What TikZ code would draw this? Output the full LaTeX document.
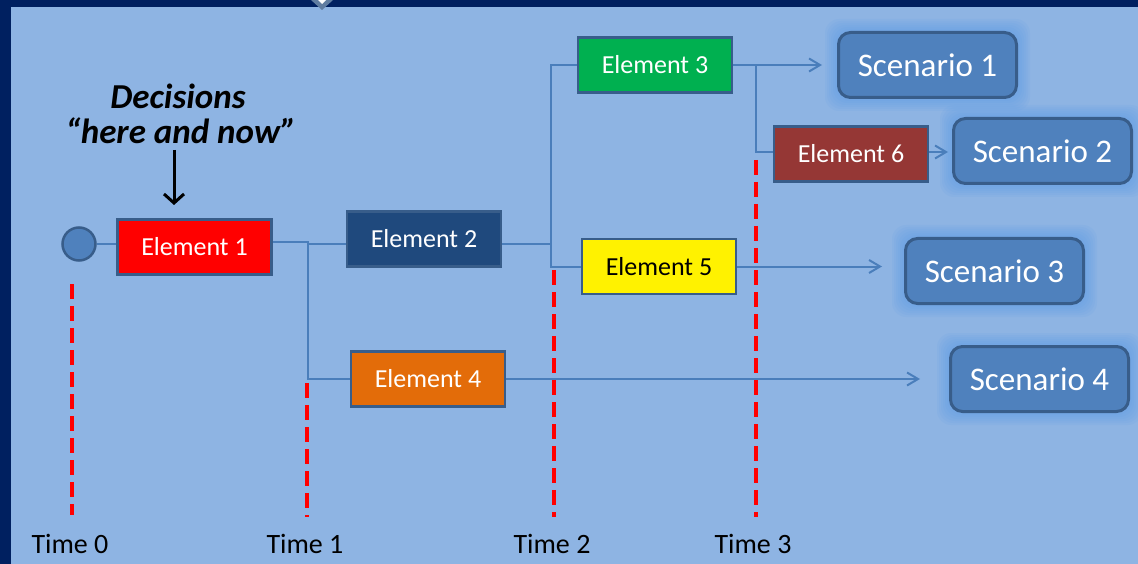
\documentclass[tikz,border=0pt]{standalone}
\usepackage{fontspec}
\setmainfont{Carlito}
\usetikzlibrary{arrows.meta,calc}
\pgfdeclarelayer{bg}
\pgfsetlayers{bg,main}
\definecolor{navy}{HTML}{002060}
\definecolor{sky}{HTML}{8EB4E3}
\definecolor{accent}{HTML}{4F81BD}
\definecolor{rim}{HTML}{385D8A}
\definecolor{wire}{HTML}{4A7EBB}
\definecolor{halo}{HTML}{5B9BE8}
\definecolor{elgreen}{HTML}{00B050}
\definecolor{eldark}{HTML}{1F497D}
\definecolor{elorange}{HTML}{E36C09}
\definecolor{elbrown}{HTML}{953735}
\tikzset{
  elem/.style={draw=rim, line width=2.5pt, minimum width=154pt, minimum height=55pt,
    inner sep=0pt, text=white, font=\fontsize{26}{30}\selectfont},
  scen/.style={draw=rim, line width=3pt, fill=accent, rounded corners=12pt,
    minimum width=178pt, minimum height=65pt, inner sep=0pt, text=white,
    font=\fontsize{33}{38}\selectfont},
  wireline/.style={draw=wire, line width=2pt},
  toarrow/.style={wireline, -{Straight Barb[length=11pt,width=13pt,line width=2pt]}},
  timeline/.style={draw=red, line width=4.5pt, dash pattern=on 15pt off 7pt},
  timelabel/.style={font=\fontsize{28}{32}\selectfont, text=black, inner sep=0pt},
  decision/.style={font=\fontsize{35}{40}\bfseries\itshape\selectfont, inner sep=0pt}
}
\begin{document}
\begin{tikzpicture}[x=1pt,y=-1pt]
\useasboundingbox (0,0) rectangle (1138,564);
\clip (0,0) rectangle (1138,564);
% frame and slide area
\begin{pgfonlayer}{bg}
\fill[navy] (0,0) rectangle (1138,564);
\fill[sky] (11,7) rectangle (1138,564);
\fill[rim!80!white] (311,0) -- (333,0) -- (322,10) -- cycle;
\fill[white] (318,0) -- (326,0) -- (322,4) -- cycle;
\end{pgfonlayer}

% time axis markers
\draw[timeline] (72,284) -- (72,515);
\draw[timeline] (307,383) -- (307,517);
\draw[timeline] (554,270) -- (554,517);
\draw[timeline] (756,160) -- (756,517);
\node[timelabel] (t0) at (70,544) {Time 0};
\node[timelabel] (t1) at (305,544) {Time 1};
\node[timelabel] (t2) at (552,544) {Time 2};
\node[timelabel] (t3) at (753,544) {Time 3};

% root and decision nodes
\node[circle, draw=rim, line width=2.5pt, fill=accent, minimum size=33pt, inner sep=0pt] (root) at (79,244) {};
\node[elem, fill=red] (e1) at (194.5,247) {Element 1};
\node[elem, fill=eldark] (e2) at (424,239) {Element 2};
\node[elem, fill=elgreen] (e3) at (655,65) {Element 3};
\node[elem, fill=yellow, text=black] (e5) at (659,266.5) {Element 5};
\node[elem, fill=elbrown] (e6) at (851,154) {Element 6};
\node[elem, fill=elorange] (e4) at (428,379) {Element 4};

% scenarios
\node[scen] (s1) at (927.5,65) {Scenario 1};
\node[scen] (s2) at (1042.5,151) {Scenario 2};
\node[scen] (s3) at (994.5,271) {Scenario 3};
\node[scen] (s4) at (1039.5,379) {Scenario 4};

% soft halo behind the scenario boxes
\begin{pgfonlayer}{bg}
\foreach \s in {s1,s2,s3,s4}{
  \foreach \k in {2,4,...,12}{
    \fill[halo, opacity=0.10, rounded corners=14pt]
      ($(\s.south west)+(-\k,\k)$) rectangle ($(\s.north east)+(\k,-\k)$);
  }
}
\end{pgfonlayer}

% decision label and its pointer
\node[decision] (dec1) at (178,96) {Decisions};
\node[decision] (dec2) at (181,131) {“here and now”};
\coordinate (tail) at (174,150);
\coordinate (tip) at (174,205);
\draw[line width=3pt, -{Straight Barb[length=9pt,width=20pt,line width=3pt]}] (tail) -- (tip);

% tree connectors
\coordinate (j1) at (308,244);
\coordinate (j2) at (551,244);
\coordinate (j3) at (756,65);
\draw[wireline] (root.east) -- (e1.west |- root);
\draw[wireline] (e1.east |- 0,242) -- (j1 |- 0,242) -- (j1 |- e4.west) -- (e4.west);
\draw[wireline] (j1) -- (e2.west |- j1);
\draw[wireline] (e2.east |- j2) -- (j2);
\draw[wireline] (e3.west) -- (j2 |- e3.west) -- (j2 |- e5.west) -- (e5.west);
\draw[wireline] (j3) -- (j3 |- 0,152) -- (e6.west |- 0,152);
\draw[toarrow, shorten >=15pt] (e3.east) -- (s1.west);
\draw[toarrow, shorten >=4pt] (e6.east |- 0,152) -- (s2.west |- 0,152);
\draw[toarrow, shorten >=22pt] (e5.east) -- (e5.east -| s3.west);
\draw[toarrow, shorten >=29pt] (e4.east) -- (s4.west);
\end{tikzpicture}
\end{document}
